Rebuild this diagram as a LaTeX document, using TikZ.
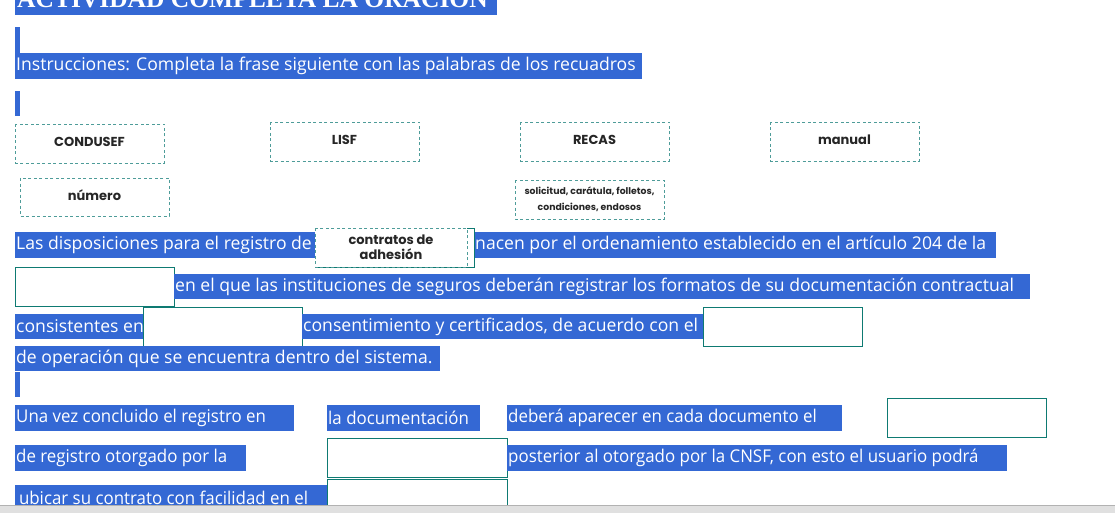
\documentclass[tikz,border=0pt]{standalone}
\usepackage{fontspec}
\setmainfont{Open Sans}
\newfontfamily\popfont{Poppins}
\newfontfamily\titlefont{Liberation Serif}
\definecolor{hl}{HTML}{3468D4}
\definecolor{teal}{HTML}{0E7A72}
\definecolor{dteal}{HTML}{4E9C99}
\tikzset{
  wordbox/.style={draw=dteal,dashed,line width=0.8pt,dash pattern=on 3pt off 2.5pt,fill=white},
  blankbox/.style={draw=teal,line width=0.8pt,fill=white},
  wordtxt/.style={font=\popfont\bfseries\fontsize{13}{15}\selectfont,text=black!85,align=center},
  bartxt/.style={font=\fontsize{17.6}{19}\selectfont,text=white,anchor=west,inner sep=0pt}
}
\newcommand\blbar[6][1]{\fill[hl] (#2,#4) rectangle (#3,#5);
  \node[bartxt] at (#2+1,{(#4+#5)/2}) {\scalebox{#1}[1]{#6}};}
\begin{document}
\begin{tikzpicture}[x=1pt,y=-1pt]
\useasboundingbox (0,0) rectangle (1115,513);
\begin{scope}
\clip (0,0) rectangle (1115,513);
\fill[hl] (15,-5) rectangle (497,15);
\node[font=\titlefont\bfseries\fontsize{25.5}{27}\selectfont,text=white,anchor=base west,inner sep=0pt] (title) at (17,8) {ACTIVIDAD COMPLETA LA ORACIÓN};
\end{scope}
\fill[hl] (15,27) rectangle (20,53);
\blbar{15}{642}{53}{79}{Instrucciones: Completa la frase siguiente con las palabras de los recuadros}
\fill[hl] (15,91) rectangle (20,116);
% word boxes
\draw[wordbox] (15,124) rectangle (164,163); \node[wordtxt] (w1) at (89.5,142) {CONDUSEF};
\draw[wordbox] (270,122) rectangle (419,161); \node[wordtxt] (w2) at (344.5,140) {LISF};
\draw[wordbox] (520,122) rectangle (669,161); \node[wordtxt] (w3) at (594.5,140) {RECAS};
\draw[wordbox] (770,122) rectangle (919,161); \node[wordtxt] (w4) at (844.5,140) {manual};
\draw[wordbox] (20,178) rectangle (169,216); \node[wordtxt] (w5) at (94.5,195) {número};
\draw[wordbox] (515,180) rectangle (664,219);
\node[wordtxt,font=\popfont\bfseries\fontsize{9.3}{15.5}\selectfont] (w6) at (589.5,199) {solicitud, carátula, folletos,\\condiciones, endosos};
% line 1
\blbar{15}{315}{232}{258}{Las disposiciones para el registro de}
\blbar{474}{996}{232}{258}{nacen por el ordenamiento establecido en el artículo 204 de la}
\draw[blankbox] (315,228) rectangle (474,267);
\draw[wordbox] (315,228) rectangle (467,267);
\node[wordtxt,font=\popfont\bfseries\fontsize{13}{15.5}\selectfont] (w7) at (391,247) {contratos de\\adhesión};
% line 2
\draw[blankbox] (15,267) rectangle (174,306);
\blbar{174}{1030}{274}{299}{en el que las instituciones de seguros deberán registrar los formatos de su documentación contractual}
% line 3
\blbar{15}{143}{314}{339}{consistentes en}
\draw[blankbox] (143,307) rectangle (302,346);
\blbar{302}{703}{314}{339}{consentimiento y certificados, de acuerdo con el}
\draw[blankbox] (703,307) rectangle (862,346);
% line 4
\blbar{15}{440}{346}{371}{de operación que se encuentra dentro del sistema.}
\fill[hl] (15,372) rectangle (20,397);
% line 5
\blbar[0.96]{15}{294}{405}{431}{Una vez concluido el registro en}
\blbar[0.96]{327}{480}{405}{431}{la documentación}
\blbar[0.96]{507}{842}{405}{431}{deberá aparecer en cada documento el}
\draw[blankbox] (887,398) rectangle (1046,437);
% line 6
\blbar[0.96]{15}{246}{445}{471}{de registro otorgado por la}
\draw[blankbox] (327,438) rectangle (507,477);
\blbar[0.96]{507}{1007}{445}{471}{posterior al otorgado por la CNSF, con esto el usuario podrá}
% line 7
\blbar[0.96]{15}{327}{485}{510}{\,ubicar su contrato con facilidad en el}
\draw[blankbox] (327,479) rectangle (507,513);
\fill[black!12] (0,505) rectangle (1115,513);
\draw[black!30] (0,505) -- (1115,505);
\end{tikzpicture}
\end{document}
